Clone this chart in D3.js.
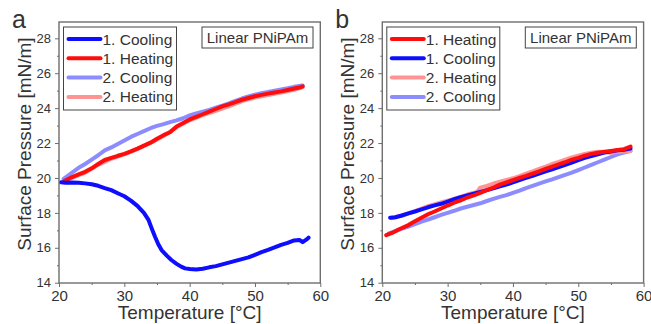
<!DOCTYPE html>
<html>
<head>
<meta charset="utf-8">
<script src="https://cdn.jsdelivr.net/npm/d3@7"></script>
<style>
  html, body { margin: 0; padding: 0; background: #fff; }
  svg { display: block; font-family: "Liberation Sans", Arial, sans-serif; }
</style>
</head>
<body>
<svg id="chart" width="651" height="324"></svg>
<script>
// ---- data: [temperature °C, surface pressure mN/m] ----
const xTicks = [20, 30, 40, 50, 60]
const yTicks = [14, 16, 18, 20, 22, 24, 26, 28]

// panel a
const aCooling1 = [[20.3,19.75],[21,19.72],[22,19.74],[23,19.72],[24,19.69],[25,19.64],[26,19.55],[27,19.42],[28,19.3],[29,19.12],[30,18.95],[31,18.7],[32,18.4],[33,18.0],[33.7,17.6],[34.2,17.1],[34.7,16.63],[35.2,16.2],[35.7,15.87],[36.5,15.55],[37.2,15.3],[38,15.08],[38.7,14.92],[39.3,14.82],[40,14.78],[41,14.75],[42,14.8],[43,14.88],[44,14.95],[45,15.05],[46,15.15],[47,15.25],[48,15.35],[49,15.45],[50,15.6],[51,15.75],[52,15.88],[53,16.02],[54,16.17],[55,16.28],[56,16.42],[56.8,16.45],[57.3,16.32],[57.8,16.45],[58.2,16.58]]
const aHeating1 = [[20.8,19.82],[22,20.05],[23,20.2],[24,20.35],[25,20.55],[26,20.8],[27,21.03],[28,21.15],[29,21.27],[30,21.38],[31,21.52],[32,21.68],[33,21.85],[34,22.02],[35,22.25],[36,22.45],[37,22.62],[38,22.95],[39,23.15],[40,23.35],[41,23.5],[42,23.65],[43,23.8],[44,23.95],[45,24.1],[46,24.22],[47,24.35],[48,24.48],[49,24.58],[50,24.68],[51,24.76],[52,24.83],[53,24.9],[54,24.96],[55,25.04],[56,25.12],[57,25.2],[57.3,25.25]]
const aCooling2 = [[20.7,19.95],[22,20.3],[23,20.58],[24,20.8],[25,21.05],[26,21.3],[27,21.58],[28,21.75],[29,21.95],[30,22.15],[31,22.35],[32,22.52],[33,22.68],[34,22.85],[35,22.98],[36,23.08],[37,23.2],[38,23.3],[39,23.42],[40,23.58],[41,23.7],[42,23.8],[43,23.9],[44,24.02],[45,24.14],[46,24.27],[47,24.42],[48,24.55],[49,24.67],[50,24.77],[51,24.85],[52,24.92],[53,25.0],[54,25.07],[55,25.14],[56,25.22],[57,25.28],[57.3,25.3]]
const aHeating2 = [[20.8,19.8],[22,20.0],[24,20.3],[26,20.75],[28,21.1],[30,21.35],[32,21.65],[34,22.0],[36,22.4],[38,22.9],[40,23.3],[42,23.6],[44,23.85],[46,24.1],[48,24.4],[50,24.6],[52,24.75],[54,24.9],[56,25.05],[57.3,25.2]]

// panel b
const bHeating1 = [[20.6,16.72],[21.5,16.85],[22.5,17.05],[24,17.3],[25,17.52],[26,17.72],[27,17.92],[28,18.08],[29,18.25],[30,18.42],[31,18.58],[32,18.72],[33,18.88],[34,19.0],[35,19.15],[36,19.3],[37,19.45],[38,19.62],[39,19.75],[40,19.88],[41,20.0],[42,20.12],[43,20.25],[44,20.38],[45,20.52],[46,20.65],[47,20.78],[48,20.9],[49,21.05],[50,21.15],[51,21.28],[52,21.38],[53,21.45],[54,21.5],[55,21.55],[56,21.6],[57,21.65],[57.5,21.72],[58,21.8]]
const bCooling1 = [[21.2,17.72],[22,17.75],[23,17.85],[24,17.97],[25,18.08],[26,18.2],[27,18.32],[28,18.43],[29,18.52],[30,18.65],[31,18.78],[32,18.9],[33,19.0],[34,19.1],[35,19.2],[36,19.3],[37,19.4],[38,19.52],[39,19.62],[40,19.75],[41,19.88],[42,20.0],[43,20.12],[44,20.25],[45,20.38],[46,20.5],[47,20.62],[48,20.75],[49,20.88],[50,21.02],[51,21.15],[52,21.25],[53,21.35],[54,21.45],[55,21.52],[56,21.58],[57,21.62],[58,21.68]]
const bHeating2 = [[21.5,17.7],[23,17.85],[25,18.1],[27,18.38],[29,18.6],[31,18.8],[33,19.05],[34.5,19.2],[35,19.45],[36,19.55],[37,19.68],[38,19.78],[39,19.88],[40,19.98],[41,20.1],[42,20.25],[43,20.38],[44,20.52],[45,20.65],[46,20.8],[47,20.92],[48,21.05],[49,21.18],[50,21.28],[51,21.38],[52,21.45],[53,21.5],[54,21.48],[55,21.45],[56,21.5],[57,21.52],[58,21.55]]
const bCooling2 = [[21,16.82],[22,16.95],[23,17.1],[24,17.22],[25,17.35],[26,17.5],[27,17.62],[28,17.75],[29,17.88],[30,18.0],[31,18.12],[32,18.25],[33,18.35],[34,18.45],[35,18.55],[36,18.68],[37,18.8],[38,18.92],[39,19.02],[40,19.15],[41,19.28],[42,19.42],[43,19.55],[44,19.68],[45,19.8],[46,19.92],[47,20.05],[48,20.18],[49,20.3],[50,20.45],[51,20.6],[52,20.75],[53,20.9],[54,21.05],[55,21.2],[56,21.35],[57,21.45],[58,21.55]]

const colors = { c1: "#0d0dff", h1: "#ff0d0d", c2: "#8c8cff", h2: "#ff9494" }

const svg = d3.select("#chart")

/**
 * draws one panel (frame, axes, curves, legend)
 */
const drawPanel = (opt) => {
  const top = 22, bottom = 283
  const x = d3.scaleLinear().domain([20, 60]).range([opt.left, opt.left + 261.3])
  const y = d3.scaleLinear().domain([14, 28]).range([282.7, 38.3])
  const g = svg.append("g")
  const axisCol = "#6e6e6e", textCol = "#333"

  // curves - light ones underneath
  const line = d3.line().x(d => x(d[0])).y(d => y(d[1]))
  opt.series.slice().reverse().forEach(s => {
    g.append("path")
      .attr("d", line(s.data))
      .attr("fill", "none")
      .attr("stroke", s.color)
      .attr("stroke-width", 4)
      .attr("stroke-linejoin", "round")
      .attr("stroke-linecap", "round")
  })

  // y axis with outward ticks
  const yAx = g.append("g").attr("transform", "translate(" + opt.left + ",0)")
    .call(d3.axisLeft(y).tickValues(yTicks).tickSize(4).tickPadding(4))
  yAx.select(".domain").remove()
  yAx.selectAll("line").attr("stroke", axisCol)
  yAx.selectAll("text").attr("fill", textCol).attr("font-size", 13).attr("font-family", null)
  g.append("g").attr("transform", "translate(" + opt.left + ",0)")
    .call(d3.axisLeft(y).tickValues(d3.range(15, 28, 2)).tickSize(2).tickFormat(""))
    .call(a => a.select(".domain").remove())
    .selectAll("line").attr("stroke", axisCol)

  // x axis
  const xAx = g.append("g").attr("transform", "translate(0," + bottom + ")")
    .call(d3.axisBottom(x).tickValues(xTicks).tickSize(4).tickPadding(3))
  xAx.select(".domain").remove()
  xAx.selectAll("line").attr("stroke", axisCol)
  xAx.selectAll("text").attr("fill", textCol).attr("font-size", 15).attr("font-family", null)
  g.append("g").attr("transform", "translate(0," + bottom + ")")
    .call(d3.axisBottom(x).tickValues([25, 35, 45, 55]).tickSize(2).tickFormat(""))
    .call(a => a.select(".domain").remove())
    .selectAll("line").attr("stroke", axisCol)

  // frame
  g.append("rect")
    .attr("x", opt.left).attr("y", top)
    .attr("width", x(60) - opt.left).attr("height", bottom - top)
    .attr("fill", "none").attr("stroke", axisCol).attr("stroke-width", 1.4)

  // axis titles
  g.append("text")
    .attr("x", (x(20) + x(60)) / 2).attr("y", 319)
    .attr("text-anchor", "middle").attr("font-size", 19).attr("fill", textCol)
    .text("Temperature [°C]")
  g.append("text")
    .attr("transform", "translate(" + (opt.left - 28) + ",144) rotate(-90)")
    .attr("text-anchor", "middle").attr("font-size", 19).attr("fill", textCol)
    .text("Surface Pressure [mN/m]")

  // panel letter
  g.append("text")
    .attr("x", opt.left - 47).attr("y", 28)
    .attr("font-size", 25).attr("fill", textCol)
    .text(opt.letter)

  // legend
  const lx = opt.left + 4.5
  g.append("rect")
    .attr("x", lx).attr("y", 27).attr("width", 113).attr("height", 83)
    .attr("fill", "#fff").attr("stroke", "#444").attr("stroke-width", 1)
  opt.series.forEach((s, i) => {
    const ry = 39 + i * 19.3
    g.append("line")
      .attr("x1", lx + 5).attr("x2", lx + 37).attr("y1", ry).attr("y2", ry)
      .attr("stroke", s.color).attr("stroke-width", 4).attr("stroke-linecap", "round")
    g.append("text")
      .attr("x", lx + 39).attr("y", ry + 5.5)
      .attr("font-size", 15.5).attr("fill", textCol)
      .text(s.name)
  })

  // sample label
  const bx = opt.left + 143
  g.append("rect")
    .attr("x", bx).attr("y", 27).attr("width", 111).attr("height", 21)
    .attr("fill", "#fff").attr("stroke", "#444").attr("stroke-width", 1)
  g.append("text")
    .attr("x", bx + 55.5).attr("y", 43)
    .attr("text-anchor", "middle").attr("font-size", 15).attr("fill", textCol)
    .text("Linear PNiPAm")
}

drawPanel({
  left: 59, letter: "a",
  series: [
    { name: "1. Cooling", color: colors.c1, data: aCooling1 },
    { name: "1. Heating", color: colors.h1, data: aHeating1 },
    { name: "2. Cooling", color: colors.c2, data: aCooling2 },
    { name: "2. Heating", color: colors.h2, data: aHeating2 }
  ]
})

drawPanel({
  left: 382.3, letter: "b",
  series: [
    { name: "1. Heating", color: colors.h1, data: bHeating1 },
    { name: "1. Cooling", color: colors.c1, data: bCooling1 },
    { name: "2. Heating", color: colors.h2, data: bHeating2 },
    { name: "2. Cooling", color: colors.c2, data: bCooling2 }
  ]
})
</script>
</body>
</html>
